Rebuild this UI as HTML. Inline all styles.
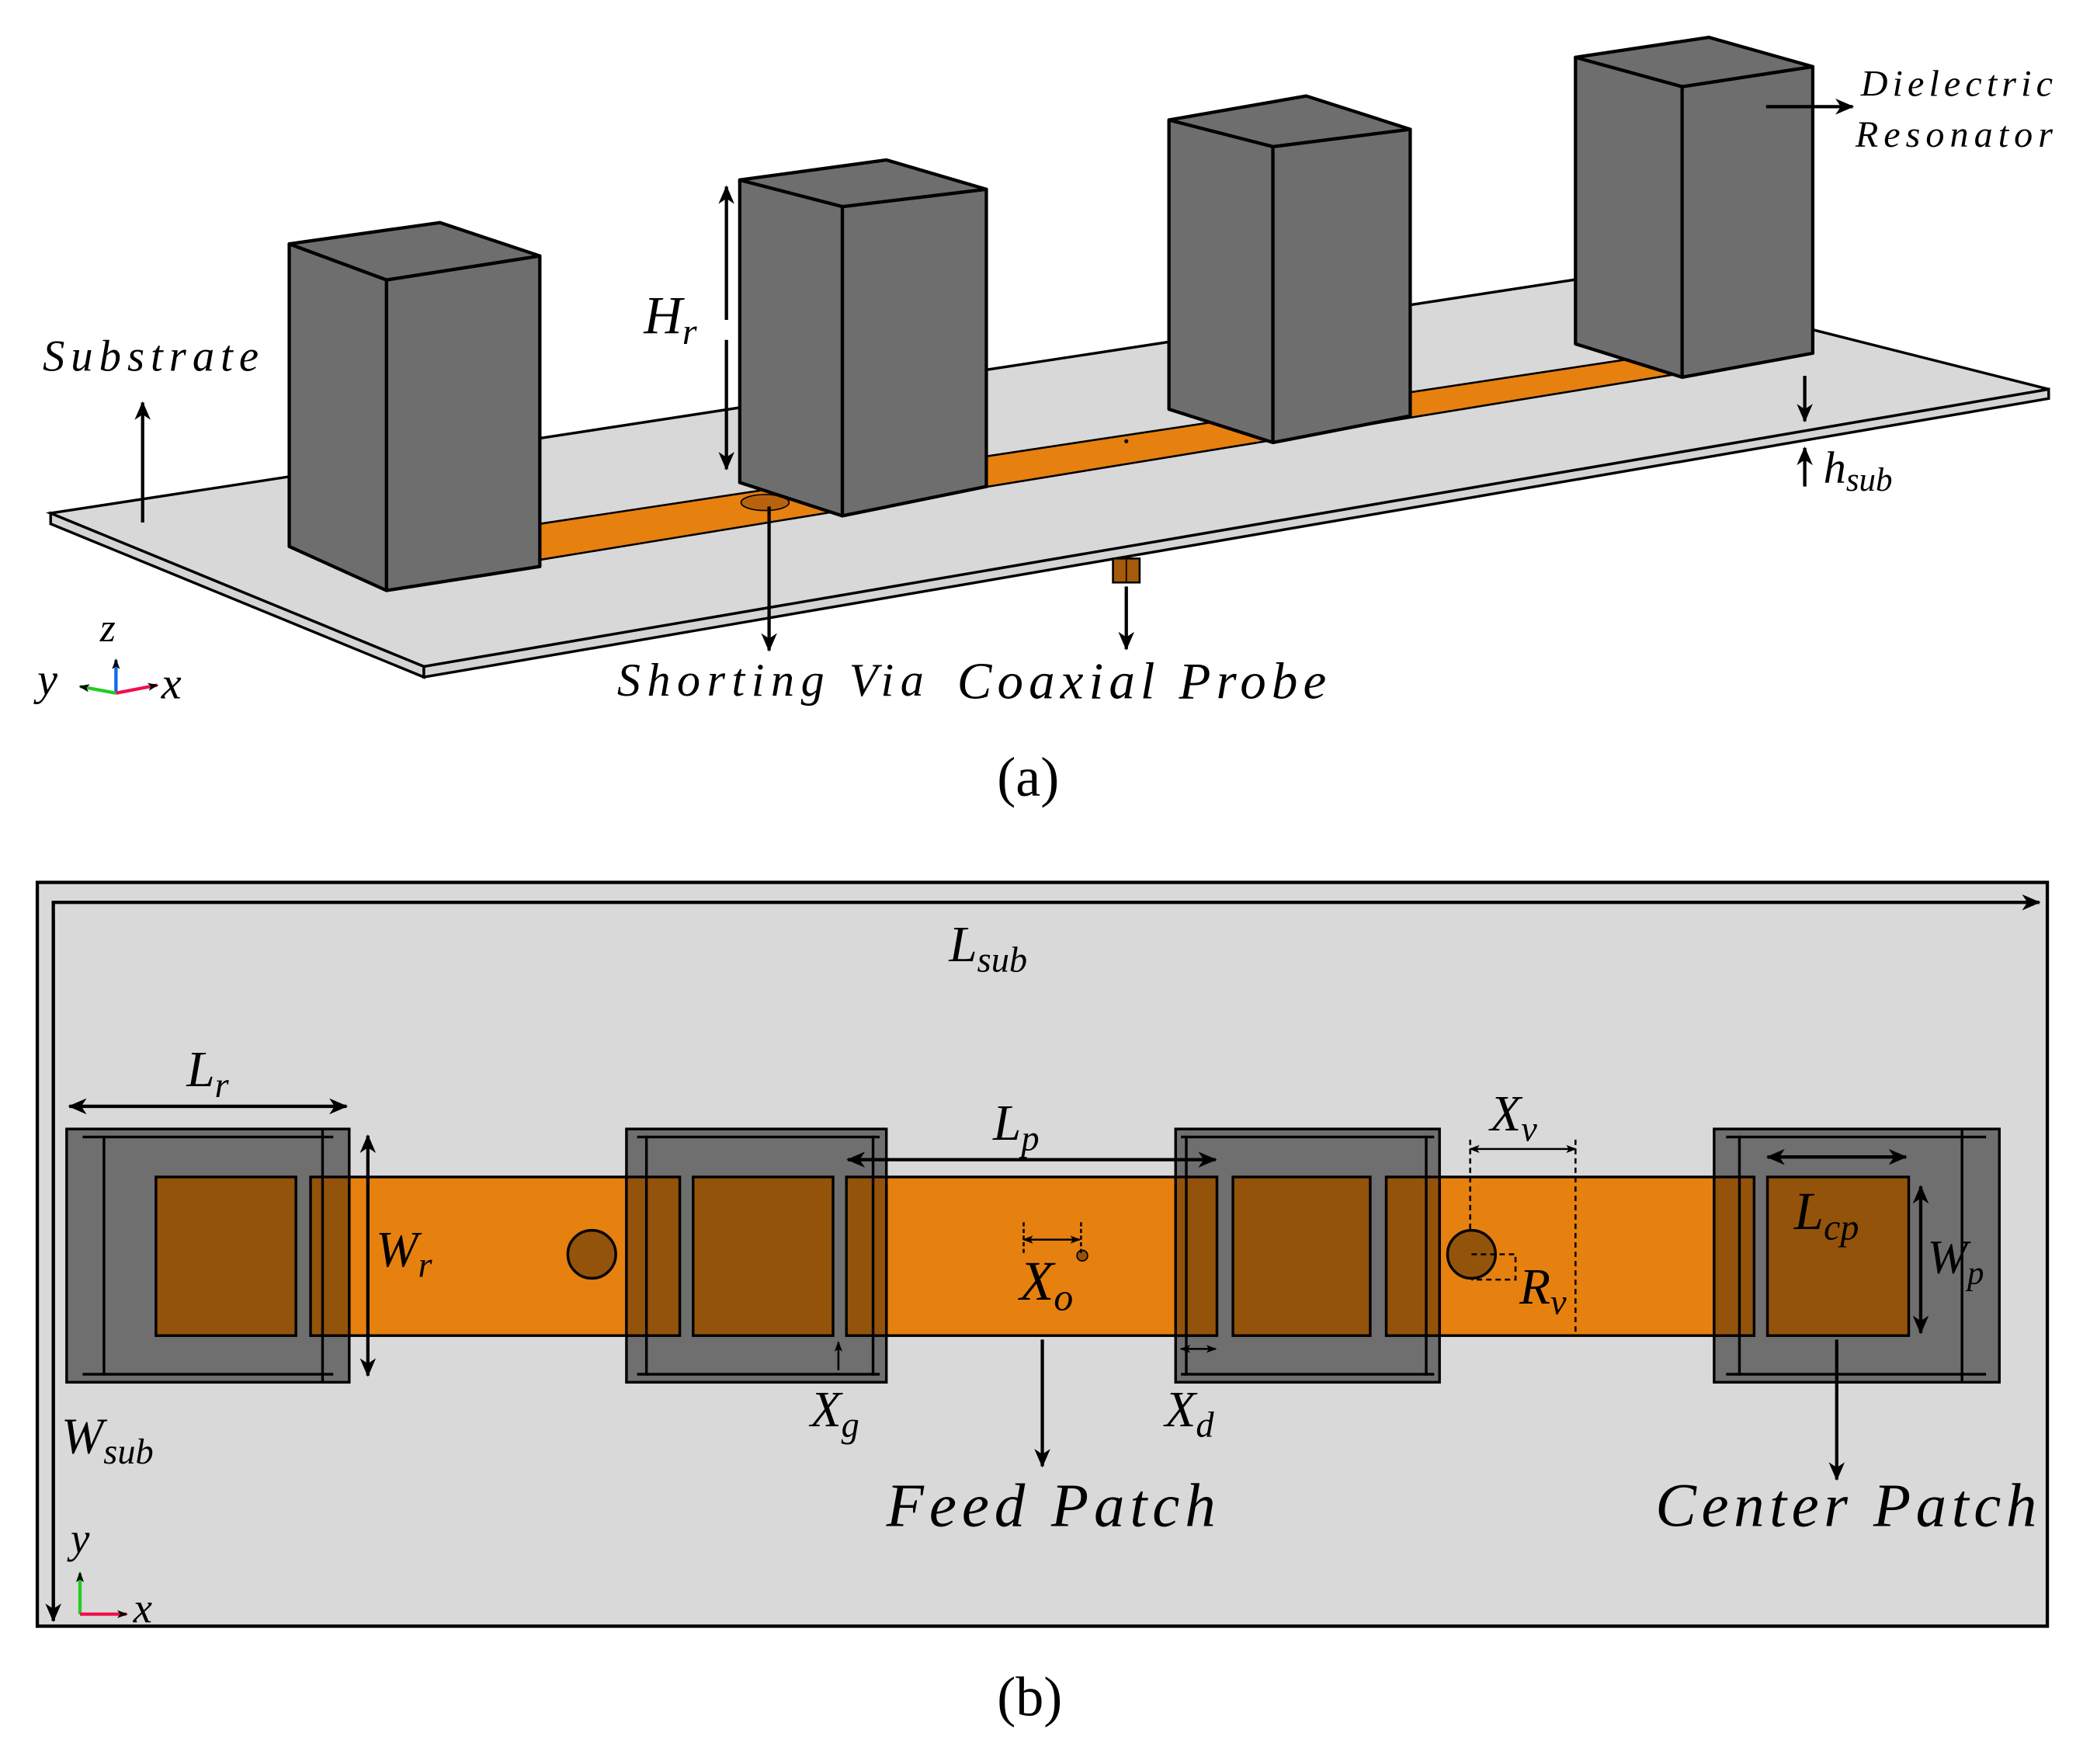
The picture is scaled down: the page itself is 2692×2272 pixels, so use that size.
<!DOCTYPE html>
<html><head><meta charset="utf-8"><style>
html,body{margin:0;padding:0;background:#fff}
svg{display:block}
text{font-family:"Liberation Serif",serif;font-style:italic;fill:#000}
.n{font-style:normal}
</style></head><body>
<svg width="2692" height="2272" viewBox="0 0 1568 1323.4" preserveAspectRatio="none" xmlns="http://www.w3.org/2000/svg">
<defs>
<marker id="a" markerWidth="10" markerHeight="10" refX="9" refY="5" orient="auto" markerUnits="userSpaceOnUse"><path d="M0,1 L10,5 L0,9 L3,5 Z" fill="#000"/></marker>
<marker id="as" markerWidth="8" markerHeight="8" refX="7" refY="4" orient="auto-start-reverse" markerUnits="userSpaceOnUse"><path d="M0,1 L8,4 L0,7 L2,4 Z" fill="#000"/></marker>
<marker id="ab" markerWidth="14" markerHeight="12" refX="13" refY="6" orient="auto-start-reverse" markerUnits="userSpaceOnUse"><path d="M0,0 L14,6 L0,12 L4,6 Z" fill="#000"/></marker>
</defs>

<!-- (a) substrate -->
<polygon points="38,385 318,500 318,508 38,393" fill="#d4d4d4" stroke="#000" stroke-width="2"/>
<polygon points="318,500 1537,292 1537,299 318,508" fill="#d4d4d4" stroke="#000" stroke-width="2"/>
<polygon points="38,385 1200,207 1537,292 318,500" fill="#d8d8d8" stroke="#000" stroke-width="2"/>
<polygon points="405,393 1245,266 1262,280 405,420" fill="#e6800f" stroke="#000" stroke-width="1.5"/>
<ellipse cx="574" cy="377" rx="18" ry="6" fill="#b8620e" stroke="#000" stroke-width="1"/>
<circle cx="845" cy="331" r="1.5" fill="#000"/>
<rect x="835" y="419" width="20" height="18" fill="#a65a0c" stroke="#000" stroke-width="1.5"/>
<line x1="845" y1="419" x2="845" y2="437" stroke="#000" stroke-width="1"/>

<g fill="#6e6e6e" stroke="#000" stroke-width="2.5" stroke-linejoin="round">
<polygon points="217,183 290,210 290,443 217,410"/>
<polygon points="290,210 405,192 405,425 290,443"/>
<polygon points="217,183 330,167 405,192 290,210"/>
<polygon points="555,135 632,155 632,387 555,362"/>
<polygon points="632,155 740,142 740,365 632,387"/>
<polygon points="555,135 665,120 740,142 632,155"/>
<polygon points="877,90 955,110 955,332 877,307"/>
<polygon points="955,110 1058,97 1058,312 955,332"/>
<polygon points="877,90 980,72 1058,97 955,110"/>
<polygon points="1182,43 1262,65 1262,283 1182,258"/>
<polygon points="1262,65 1360,50 1360,265 1262,283"/>
<polygon points="1182,43 1282,28 1360,50 1262,65"/>
</g>

<g stroke="#000" stroke-width="2.5" fill="none">
<line x1="107" y1="392" x2="107" y2="302" marker-end="url(#ab)"/>
<line x1="545" y1="240" x2="545" y2="140" marker-end="url(#ab)"/>
<line x1="545" y1="255" x2="545" y2="352" marker-end="url(#ab)"/>
<line x1="577" y1="380" x2="577" y2="488" marker-end="url(#ab)"/>
<line x1="845" y1="440" x2="845" y2="487" marker-end="url(#ab)"/>
<line x1="1325" y1="80" x2="1390" y2="80" marker-end="url(#ab)"/>
<line x1="1354" y1="282" x2="1354" y2="316" marker-end="url(#ab)"/>
<line x1="1354" y1="365" x2="1354" y2="336" marker-end="url(#ab)"/>
</g>
<text x="32" y="278" font-size="33" textLength="162" lengthAdjust="spacing">Substrate</text>
<text x="483" y="250" font-size="40">H<tspan font-size="28" dy="8">r</tspan></text>
<text x="1396" y="72" font-size="28" textLength="144" lengthAdjust="spacing">Dielectric</text>
<text x="1392" y="110" font-size="28" textLength="148" lengthAdjust="spacing">Resonator</text>
<text x="1368" y="362" font-size="34">h<tspan font-size="25" dy="6">sub</tspan></text>
<text x="463" y="522" font-size="35" textLength="230" lengthAdjust="spacing">Shorting Via</text>
<text x="718" y="524" font-size="39" textLength="277" lengthAdjust="spacing">Coaxial Probe</text>
<text x="748" y="597" font-size="42" class="n">(a)</text>
<line x1="87" y1="520" x2="87" y2="495" stroke="#0a6cf0" stroke-width="2.5" marker-end="url(#as)"/>
<line x1="87" y1="520" x2="60" y2="515" stroke="#22cc22" stroke-width="2.5" marker-end="url(#as)"/>
<line x1="87" y1="520" x2="118" y2="514" stroke="#f0104a" stroke-width="2.5" marker-end="url(#as)"/>
<text x="75" y="481" font-size="30">z</text>
<text x="28" y="521" font-size="34">y</text>
<text x="121" y="524" font-size="34">x</text>

<!-- (b) -->
<rect x="28" y="662" width="1508" height="558" fill="#d9d9d9" stroke="#000" stroke-width="2.5"/>
<rect x="233" y="883" width="1083" height="119" fill="#e6800f" stroke="#000" stroke-width="2"/>
<g stroke="#000" stroke-width="2">
<rect x="50" y="847" width="212" height="190" fill="#6f6f6f"/>
<rect x="470" y="847" width="195" height="190" fill="#6f6f6f"/>
<rect x="882" y="847" width="198" height="190" fill="#6f6f6f"/>
<rect x="1286" y="847" width="214" height="190" fill="#6f6f6f"/>
<rect x="233" y="883" width="29" height="119" fill="#94530a"/>
<rect x="470" y="883" width="40" height="119" fill="#94530a"/>
<rect x="635" y="883" width="30" height="119" fill="#94530a"/>
<rect x="882" y="883" width="31" height="119" fill="#94530a"/>
<rect x="1040" y="883" width="40" height="119" fill="#94530a"/>
<rect x="1286" y="883" width="30" height="119" fill="#94530a"/>
<rect x="117" y="883" width="105" height="119" fill="#94530a"/>
<rect x="520" y="883" width="105" height="119" fill="#94530a"/>
<rect x="925" y="883" width="103" height="119" fill="#94530a"/>
<rect x="1326" y="883" width="106" height="119" fill="#94530a"/>
</g>
<g stroke="#000" stroke-width="2" fill="none">
<line x1="78" y1="852" x2="78" y2="1032"/><line x1="242" y1="847" x2="242" y2="1037"/>
<line x1="62" y1="853" x2="250" y2="853"/><line x1="62" y1="1031" x2="250" y2="1031"/>
<line x1="485" y1="852" x2="485" y2="1032"/><line x1="655" y1="852" x2="655" y2="1032"/>
<line x1="478" y1="853" x2="660" y2="853"/><line x1="478" y1="1031" x2="660" y2="1031"/>
<line x1="890" y1="852" x2="890" y2="1032"/><line x1="1070" y1="852" x2="1070" y2="1032"/>
<line x1="886" y1="853" x2="1076" y2="853"/><line x1="886" y1="1031" x2="1076" y2="1031"/>
<line x1="1305" y1="852" x2="1305" y2="1032"/><line x1="1472" y1="847" x2="1472" y2="1037"/>
<line x1="1295" y1="853" x2="1490" y2="853"/><line x1="1295" y1="1031" x2="1490" y2="1031"/>
</g>
<circle cx="444" cy="941" r="18" fill="#94530a" stroke="#000" stroke-width="2"/>
<circle cx="1104" cy="941" r="18" fill="#94530a" stroke="#000" stroke-width="2"/>
<circle cx="812" cy="942" r="4" fill="#94530a" stroke="#000" stroke-width="1"/>

<g stroke="#000" stroke-width="2.5" fill="none">
<polyline points="40,1216 40,677 1530,677" marker-end="url(#ab)"/>
<line x1="40" y1="690" x2="40" y2="1216" marker-end="url(#ab)"/>
<line x1="52" y1="830" x2="260" y2="830" marker-start="url(#ab)" marker-end="url(#ab)"/>
<line x1="276" y1="852" x2="276" y2="1032" marker-start="url(#ab)" marker-end="url(#ab)"/>
<line x1="636" y1="870" x2="912" y2="870" marker-start="url(#ab)" marker-end="url(#ab)"/>
<line x1="1326" y1="868" x2="1430" y2="868" marker-start="url(#ab)" marker-end="url(#ab)"/>
<line x1="1441" y1="890" x2="1441" y2="1000" marker-start="url(#ab)" marker-end="url(#ab)"/>
<line x1="782" y1="1005" x2="782" y2="1100" marker-end="url(#ab)"/>
<line x1="1378" y1="1005" x2="1378" y2="1110" marker-end="url(#ab)"/>
</g>
<g stroke="#000" stroke-width="1.5" fill="none">
<line x1="768" y1="930" x2="810" y2="930" marker-start="url(#as)" marker-end="url(#as)"/>
<line x1="768" y1="917" x2="768" y2="940" stroke-dasharray="3,2"/>
<line x1="811" y1="917" x2="811" y2="940" stroke-dasharray="3,2"/>
<line x1="1103" y1="862" x2="1182" y2="862" marker-start="url(#as)" marker-end="url(#as)"/>
<line x1="1103" y1="855" x2="1103" y2="922" stroke-dasharray="4,3"/>
<line x1="1182" y1="855" x2="1182" y2="1000" stroke-dasharray="4,3"/>
<polyline points="1104,941 1137,941 1137,960 1104,960" stroke-dasharray="4,3"/>
<line x1="886" y1="1012" x2="912" y2="1012" marker-start="url(#as)" marker-end="url(#as)"/>
<line x1="629" y1="1028" x2="629" y2="1007" marker-end="url(#as)"/>
</g>
<text x="712" y="721" font-size="38">L<tspan font-size="27" dy="8">sub</tspan></text>
<text x="140" y="815" font-size="38">L<tspan font-size="27" dy="8">r</tspan></text>
<text x="282" y="950" font-size="38">W<tspan font-size="27" dy="8">r</tspan></text>
<text x="745" y="855" font-size="38">L<tspan font-size="27" dy="8">p</tspan></text>
<text x="1118" y="848" font-size="38">X<tspan font-size="27" dy="8">v</tspan></text>
<text x="1346" y="922" font-size="40">L<tspan font-size="28" dy="8">cp</tspan></text>
<text x="1446" y="955" font-size="36">W<tspan font-size="25" dy="8">p</tspan></text>
<text x="765" y="975" font-size="42">X<tspan font-size="29" dy="8">o</tspan></text>
<text x="1140" y="978" font-size="38">R<tspan font-size="27" dy="8">v</tspan></text>
<text x="608" y="1070" font-size="38">X<tspan font-size="27" dy="8">g</tspan></text>
<text x="874" y="1070" font-size="38">X<tspan font-size="27" dy="8">d</tspan></text>
<text x="46" y="1090" font-size="38">W<tspan font-size="27" dy="8">sub</tspan></text>
<text x="665" y="1145" font-size="46" textLength="247" lengthAdjust="spacing">Feed Patch</text>
<text x="1242" y="1145" font-size="46" textLength="286" lengthAdjust="spacing">Center Patch</text>
<line x1="60" y1="1211" x2="60" y2="1180" stroke="#22cc22" stroke-width="2.5" marker-end="url(#as)"/>
<line x1="60" y1="1211" x2="95" y2="1211" stroke="#f0104a" stroke-width="2.5" marker-end="url(#as)"/>
<text x="53" y="1165" font-size="32">y</text>
<text x="100" y="1217" font-size="32">x</text>
<text x="748" y="1287" font-size="42" class="n">(b)</text>
</svg>
</body></html>
